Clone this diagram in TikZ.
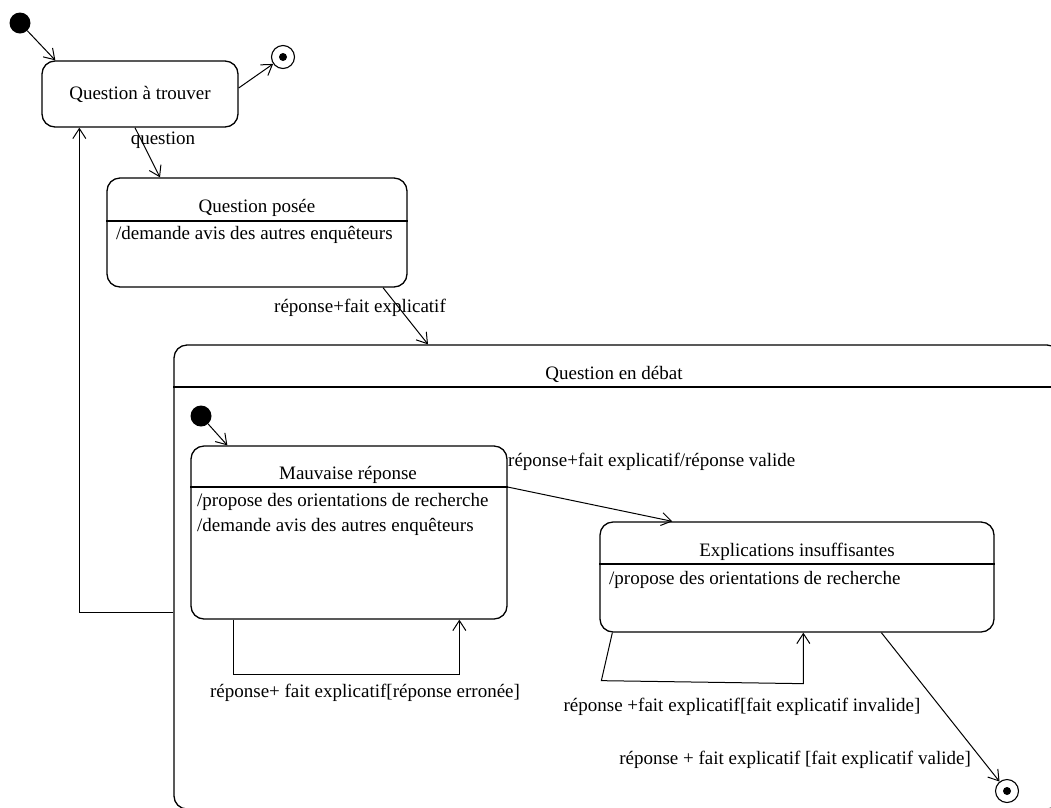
\documentclass[tikz,border=0pt]{standalone}
\usepackage{fontspec}
\setmainfont{Liberation Serif}
\usetikzlibrary{arrows.meta}
\begin{document}
\begin{tikzpicture}[x=1pt,y=-1pt,
  font=\fontsize{19}{23}\selectfont,
  stbox/.style={draw, line width=1.3pt, rounded corners=13pt, inner sep=0pt},
  divider/.style={line width=1.3pt},
  initstate/.style={circle, fill=black, minimum size=21pt, inner sep=0pt},
  finalstate/.style={circle, draw, line width=1.1pt, minimum size=23pt, inner sep=0pt,
     path picture={\fill (path picture bounding box.center) circle (4pt);}},
  arr/.style={line width=1pt, -{Straight Barb[length=10pt,width=13pt,line width=1pt]}},
  lbl/.style={inner sep=0pt},
  body/.style={inner sep=0pt, anchor=west}]
\path[use as bounding box, clip] (0,0) rectangle (1051,807);

% ---- states ----
\node[stbox, minimum width=196pt, minimum height=66pt] (qat) at (140,94) {Question à trouver};
\node[initstate] (i1) at (20,23) {};
\node[finalstate] (f1) at (283,57) {};

\node[stbox, minimum width=300pt, minimum height=109pt] (qp) at (257,232.5) {};
\draw[divider] (qp.west |- 0,221) -- (qp.east |- 0,221);
\node[lbl] (qpt) at (257,208) {Question posée};
\node[body] (qpb) at (116,235) {/demande avis des autres enquêteurs};

\node[stbox, minimum width=886pt, minimum height=464pt] (qed) at (617,577) {};
\draw[divider] (qed.west |- 0,387) -- (qed.east |- 0,387);
\node[lbl] (qedt) at (614,374) {Question en débat};

\node[initstate] (i2) at (201,416) {};

\node[stbox, minimum width=316pt, minimum height=173pt] (mr) at (349,532.5) {};
\draw[divider] (mr.west |- 0,487) -- (mr.east |- 0,487);
\node[lbl] (mrt) at (348,475) {Mauvaise réponse};
\node[body] (mrb1) at (197,502) {/propose des orientations de recherche};
\node[body] (mrb2) at (197,527) {/demande avis des autres enquêteurs};

\node[stbox, minimum width=394pt, minimum height=110pt] (ei) at (797,577) {};
\draw[divider] (ei.west |- 0,564) -- (ei.east |- 0,564);
\node[lbl] (eit) at (797,552) {Explications insuffisantes};
\node[body] (eib) at (609,580) {/propose des orientations de recherche};

\node[finalstate] (f2) at (1007,791) {};

% ---- transitions ----
\draw[arr] (i1) -- ([xshift=14pt]qat.north west);
\draw[arr] ([yshift=6pt]qat.east) -- (f1);
\draw[arr] ([xshift=-5pt]qat.south) -- ([xshift=-97pt]qp.north);
\node[lbl] (lq) at (163,140) {question};

\draw[arr] ([xshift=126pt]qp.south) -- ([xshift=-189pt]qed.north);
\node[lbl] (lqp) at (360,308) {réponse+fait explicatif};

\draw[arr] (i2) -- ([xshift=37pt]mr.north west);

\draw[arr] (mr.east |- 0,487) -- ([xshift=73pt]ei.north west);
\node[body] (lmr) at (508,462) {réponse+fait explicatif/réponse valide};

\draw[arr] ([xshift=43pt]mr.south west) -- ++(0,55) -| ([xshift=269pt]mr.south west);
\node[lbl] (lmrs) at (365,693) {réponse+ fait explicatif[réponse erronée]};

\draw[arr] ([xshift=13pt]ei.south west) -- ++(-11,48) -- ++(202,3) -- ([xshift=204pt]ei.south west);
\node[lbl] (leis) at (742,707) {réponse +fait explicatif[fait explicatif invalide]};

\draw[arr] ([xshift=282pt]ei.south west) -- (f2);
\node[lbl] (leif) at (795,760) {réponse + fait explicatif [fait explicatif valide]};

\draw[arr] ([yshift=-35pt]qed.west) -| ([xshift=38pt]qat.south west);
\end{tikzpicture}
\end{document}
